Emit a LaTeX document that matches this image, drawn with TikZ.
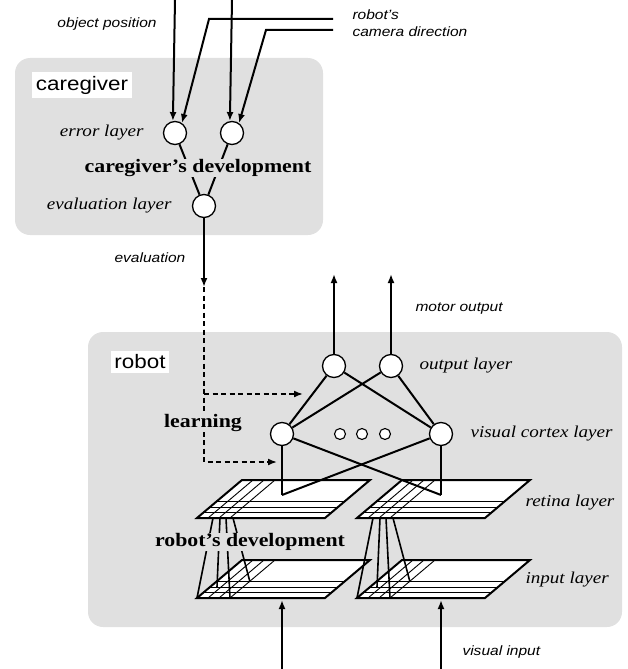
\documentclass[tikz,border=0pt]{standalone}
\usepackage{fontspec}
\setmainfont{Liberation Serif}[FakeStretch=1.15]
\setsansfont{Liberation Sans}[FakeStretch=1.15]
\usetikzlibrary{arrows.meta}
\definecolor{boxgray}{RGB}{224,224,224}

\begin{document}
\begin{tikzpicture}[x=1pt,y=-1pt,
	unit/.style={circle,draw,fill=white,minimum size=23pt,inner sep=0pt,line width=1.3pt},
	smallunit/.style={circle,draw,fill=white,minimum size=11pt,inner sep=0pt,line width=1.1pt},
	layername/.style={font=\itshape\fontsize{16.6}{19}\selectfont},
	signame/.style={font=\sffamily\itshape\fontsize{13.5}{17}\selectfont,align=left},
	devname/.style={font=\bfseries\fontsize{19}{22}\selectfont,fill=boxgray,inner sep=0.5pt},
	boxname/.style={font=\sffamily\fontsize{19.5}{22}\selectfont,fill=white,inner sep=3.5pt},
	conn/.style={line width=2pt},
	sig/.style={line width=2pt,-{Latex[length=9pt,width=7pt]}},
	lrn/.style={line width=1.7pt,dash pattern=on 5pt off 3.5pt,-{Latex[length=9pt,width=7pt]}}]
	\useasboundingbox (0,0) rectangle (627,669);

	% the two panels
	\draw[fill=boxgray,draw=none,rounded corners=15pt] (15,58) rectangle (323,235);
	\draw[fill=boxgray,draw=none,rounded corners=15pt] (88,332) rectangle (622,627);
	\node[boxname] (cglabel) at (82,85) {caregiver};
	\node[boxname] (rblabel) at (140,362) {robot};

	% caregiver
	\node[unit] (err1) at (175,133) {};
	\node[unit] (err2) at (232,133) {};
	\node[unit] (evl) at (204,206) {};
	\node[layername,anchor=east] (errname) at (147,133) {error layer};
	\node[layername,anchor=east] (evlname) at (175,206) {evaluation layer};

	\coordinate (obj1) at (175,0);
	\coordinate (obj2) at (232,0);
	\coordinate (cam1) at (333,19);
	\coordinate (cam2) at (333,30);
	\draw[sig] (obj1) -- (err1.100);
	\draw[sig] (obj2) -- (err2.100);
	\draw[sig] (cam1) -- (209,19) -- (err1.55);
	\draw[sig] (cam2) -- (266,30) -- (err2.55);
	\node[signame] (objname) at (107,24) {object position};
	\node[signame,anchor=west] (camname) at (349,23) {robot's\\camera direction};

	\draw[conn] (err1) -- (evl);
	\draw[conn] (err2) -- (evl);
	\node[devname] (cgdev) at (198,168) {caregiver's development};

	% evaluation signal and learning
	\coordinate (evtip) at (204,287);
	\coordinate (lrnturn) at (204,394);
	\coordinate (lrnout) at (303,394);
	\coordinate (lrnvc) at (277,462);
	\draw[sig] (evl) -- (evtip);
	\node[signame,anchor=west] (evname) at (111,258) {evaluation};
	\draw[lrn] (evtip) -- (204,462) -- (lrnvc);
	\draw[lrn] (lrnturn) -- (lrnout);
	\node[devname] (lrnname) at (203,423) {learning};

	% robot: retina and input planes
	\foreach \px/\py in {197/518,357/518,197/598,357/598}{
		\fill[white] (\px,\py) -- ++(128,0) -- ++(45,-38) -- ++(-128,0) -- cycle;
		\foreach \k in {1,2,3}
			\draw[line width=0.9pt] (\px+11*\k,\py) -- ++(45,-38);
		\foreach \h in {5.5,11,16.5}
			\draw[line width=0.9pt] (\px+45*\h/38,\py-\h) -- ++(128,0);
		\draw[line width=2pt] (\px,\py) -- ++(128,0) -- ++(45,-38) -- ++(-128,0) -- cycle;
	}

	% robot: network
	\node[unit] (out1) at (334,366) {};
	\node[unit] (out2) at (391,366) {};
	\node[unit] (vc1) at (282,434) {};
	\node[unit] (vc2) at (441,434) {};
	\node[smallunit] (dot1) at (340,434) {};
	\node[smallunit] (dot2) at (362,434) {};
	\node[smallunit] (dot3) at (385,434) {};
	\coordinate (rf1) at (282,495);
	\coordinate (rf2) at (441,495);
	\coordinate (mot1) at (334,274);
	\coordinate (mot2) at (391,274);
	\coordinate (vis1) at (282,669);
	\coordinate (vis2) at (441,669);
	\coordinate (inp1) at (282,600);
	\coordinate (inp2) at (441,600);

	\draw[sig] (out1) -- (mot1);
	\draw[sig] (out2) -- (mot2);
	\draw[conn] (out1) -- (vc1);
	\draw[conn] (out1) -- (vc2);
	\draw[conn] (out2) -- (vc1);
	\draw[conn] (out2) -- (vc2);
	\draw[conn] (vc1) -- (rf1);
	\draw[conn] (vc1) -- (rf2);
	\draw[conn] (vc2) -- (rf1);
	\draw[conn] (vc2) -- (rf2);
	\draw[sig] (vis1) -- (inp1);
	\draw[sig] (vis2) -- (inp2);

	% receptive fields between retina and input
	\foreach \dx in {0,160}{
		\draw[line width=1.6pt] (213+\dx,518) -- (197+\dx,598);
		\draw[line width=1.6pt] (220+\dx,518) -- (217+\dx,587);
		\draw[line width=1.6pt] (226+\dx,518) -- (230+\dx,598);
		\draw[line width=1.6pt] (233+\dx,518) -- (250+\dx,582);
	}
	\node[devname] (rbdev) at (250,542) {robot's development};

	\node[signame,anchor=west] (motname) at (412,309) {motor output};
	\node[layername,anchor=west] (outname) at (416,366) {output layer};
	\node[layername,anchor=west] (vcname) at (467,434) {visual cortex layer};
	\node[layername,anchor=west] (retname) at (522,503) {retina layer};
	\node[layername,anchor=west] (inpname) at (522,580) {input layer};
	\node[signame,anchor=west] (visname) at (459,652) {visual input};
\end{tikzpicture}
\end{document}
